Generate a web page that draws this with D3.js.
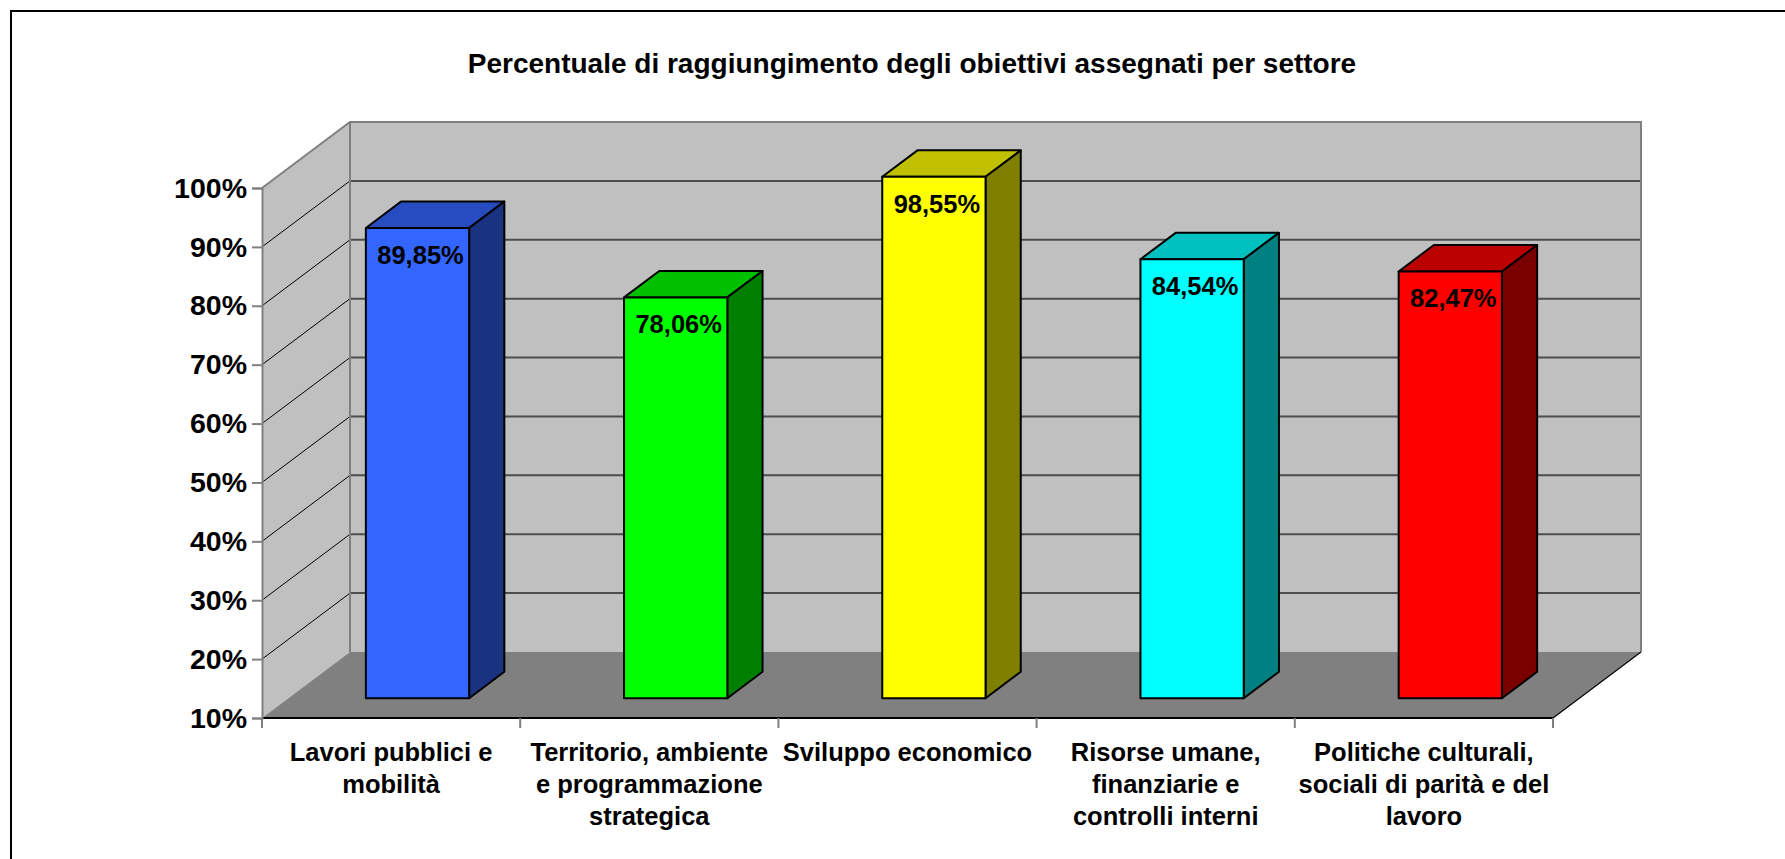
<!DOCTYPE html>
<html>
<head>
<meta charset="utf-8">
<script src="https://cdn.jsdelivr.net/npm/d3@7"></script>
<style>
	body { margin: 0; background: #fff; }
	svg { display: block; font-family: "Liberation Sans", Arial, sans-serif; font-weight: bold; }
</style>
</head>
<body>
<div id="chart"></div>
<script>
var title = 'Percentuale di raggiungimento degli obiettivi assegnati per settore';

var categories = [
	'Lavori pubblici e\nmobilità',
	'Territorio, ambiente\ne programmazione\nstrategica',
	'Sviluppo economico',
	'Risorse umane,\nfinanziarie e\ncontrolli interni',
	'Politiche culturali,\nsociali di parità e del\nlavoro'
];
var values = [89.85, 78.06, 98.55, 84.54, 82.47];
var yTicks = [10, 20, 30, 40, 50, 60, 70, 80, 90, 100];

var frontColors = ['#3366ff', '#00ff00', '#ffff00', '#00ffff', '#ff0000'];
var topColors = ['#264cc0', '#00c000', '#c0c000', '#00c0c0', '#bb0000'];
var sideColors = ['#1a3380', '#008000', '#808000', '#008080', '#7a0000'];

if(typeof(obiettivi) != 'function') {
	obiettivi = function() {
		this.width = 1785;
		this.height = 859;
		// depth of the 3d box
		this.dx = 88;
		this.dy = -66;
		this.x = d3.scaleBand().domain(categories).range([262, 1553]);
		this.y = d3.scaleLinear().domain([10, 100]).range([718, 188]);
	}
}

obiettivi.prototype.walls = function() {
	var self = this, svg = this.svg;
	var x0 = this.x.range()[0], x1 = this.x.range()[1];
	var yb = this.y(10), yt = this.y(100);
	var dx = this.dx, dy = this.dy;

	// back wall
	svg.append('rect')
		.attr('x', x0 + dx).attr('y', yt + dy)
		.attr('width', x1 - x0).attr('height', yb - yt)
		.attr('fill', '#c0c0c0');

	// side wall
	svg.append('path')
		.attr('d', d3.line()([[x0, yt], [x0 + dx, yt + dy], [x0 + dx, yb + dy], [x0, yb]]) + 'Z')
		.attr('fill', '#c0c0c0');

	// floor
	svg.append('path')
		.attr('d', d3.line()([[x0, yb], [x1, yb], [x1 + dx, yb + dy], [x0 + dx, yb + dy]]) + 'Z')
		.attr('fill', '#808080');

	var inner = yTicks.filter(function(t) { return t > 10 && t < 100; });

	// gridlines on the back wall
	svg.selectAll('.grid')
		.data(inner)
		.enter()
			.append('line')
				.attr('class', 'grid')
				.attr('x1', x0 + dx).attr('x2', x1 + dx)
				.attr('y1', function(d) { return self.y(d) + dy; })
				.attr('y2', function(d) { return self.y(d) + dy; })
				.attr('stroke', '#4d4d4d').attr('stroke-width', 2);

	// gridlines on the side wall
	svg.selectAll('.sgrid')
		.data(inner)
		.enter()
			.append('line')
				.attr('class', 'sgrid')
				.attr('x1', x0).attr('x2', x0 + dx)
				.attr('y1', function(d) { return self.y(d); })
				.attr('y2', function(d) { return self.y(d) + dy; })
				.attr('stroke', '#000').attr('stroke-width', 1);

	// wall edges
	svg.append('path')
		.attr('d', d3.line()([[x0, yt], [x0 + dx, yt + dy], [x1 + dx, yt + dy], [x1 + dx, yb + dy]]))
		.attr('fill', 'none').attr('stroke', '#808080').attr('stroke-width', 2);
	svg.append('line')
		.attr('x1', x0 + dx).attr('x2', x0 + dx)
		.attr('y1', yt + dy).attr('y2', yb + dy)
		.attr('stroke', '#808080').attr('stroke-width', 2);

	// floor edges
	svg.append('line')
		.attr('x1', x1).attr('x2', x1 + dx)
		.attr('y1', yb).attr('y2', yb + dy)
		.attr('stroke', '#000').attr('stroke-width', 1.2);
	svg.append('line')
		.attr('x1', x0).attr('x2', x1)
		.attr('y1', yb).attr('y2', yb)
		.attr('stroke', '#000').attr('stroke-width', 2);
}

obiettivi.prototype.axes = function() {
	var self = this, svg = this.svg;
	var x0 = this.x.range()[0];

	var yAxis = d3.axisLeft(this.y)
		.tickValues(yTicks)
		.tickSize(10)
		.tickPadding(5)
		.tickFormat(function(d) { return d + '%'; });

	var gy = svg.append('g')
		.attr('transform', 'translate(' + x0 + ',0)')
		.call(yAxis);
	gy.select('.domain').attr('stroke', '#808080').attr('stroke-width', 2);
	gy.selectAll('.tick line').attr('stroke', '#808080').attr('stroke-width', 2);
	gy.selectAll('.tick text')
		.attr('fill', '#000')
		.style('font-size', '28.5px')
		.style('font-family', '"Liberation Sans", Arial, sans-serif')
		.style('font-weight', 'bold');

	// category ticks sit on band edges
	var edges = categories.map(function(c) { return self.x(c); }).concat([this.x.range()[1]]);
	svg.selectAll('.ctick')
		.data(edges)
		.enter()
			.append('line')
				.attr('class', 'ctick')
				.attr('x1', function(d) { return d; })
				.attr('x2', function(d) { return d; })
				.attr('y1', this.y(10)).attr('y2', this.y(10) + 10)
				.attr('stroke', '#808080').attr('stroke-width', 2);

	var labels = svg.selectAll('.clabel')
		.data(categories)
		.enter()
			.append('text')
				.attr('class', 'clabel')
				.attr('text-anchor', 'middle')
				.style('font-size', '25.5px')
				.attr('x', function(d) { return self.x(d) + self.x.bandwidth() / 2; })
				.attr('y', 761);

	labels.selectAll('tspan')
		.data(function(d) { return d.split('\n'); })
		.enter()
			.append('tspan')
				.attr('x', function() { var p = this.parentNode; return p.getAttribute('x'); })
				.attr('dy', function(d, i) { return i == 0 ? 0 : 32; })
				.text(function(d) { return d; });
}

obiettivi.prototype.bars = function() {
	var self = this, svg = this.svg;
	var bw = this.x.bandwidth();
	var f1 = 0.3, f2 = 0.7;
	var w = bw * 0.4;
	var ddx = (f2 - f1) * this.dx, ddy = (f2 - f1) * this.dy;
	var fmt = d3.format('.2f');

	var bars = categories.map(function(c, i) {
		var left = self.x(c) + bw * 0.3 + f1 * self.dx;
		return {
			i: i,
			v: values[i],
			left: left,
			right: left + w,
			top: self.y(values[i]) + f1 * self.dy,
			bottom: self.y(10) + f1 * self.dy
		};
	});

	var g = svg.selectAll('.bar')
		.data(bars)
		.enter()
			.append('g')
				.attr('class', 'bar');

	g.append('path')
		.attr('d', function(d) {
			return d3.line()([[d.left, d.top], [d.right, d.top], [d.right + ddx, d.top + ddy], [d.left + ddx, d.top + ddy]]) + 'Z';
		})
		.attr('fill', function(d) { return topColors[d.i]; });

	g.append('path')
		.attr('d', function(d) {
			return d3.line()([[d.right, d.top], [d.right + ddx, d.top + ddy], [d.right + ddx, d.bottom + ddy], [d.right, d.bottom]]) + 'Z';
		})
		.attr('fill', function(d) { return sideColors[d.i]; });

	g.append('rect')
		.attr('x', function(d) { return d.left; })
		.attr('y', function(d) { return d.top; })
		.attr('width', w)
		.attr('height', function(d) { return d.bottom - d.top; })
		.attr('fill', function(d) { return frontColors[d.i]; });

	g.selectAll('path, rect')
		.attr('stroke', '#000')
		.attr('stroke-width', 2)
		.attr('stroke-linejoin', 'round');

	g.append('text')
		.attr('text-anchor', 'middle')
		.style('font-size', '25.5px')
		.attr('x', function(d) { return (d.left + d.right) / 2 + 3; })
		.attr('y', function(d) { return d.top + 36; })
		.text(function(d) { return fmt(d.v).replace('.', ',') + '%'; });
}

obiettivi.prototype.create = function(parent) {
	this.svg = d3.select(parent).append('svg')
		.attr('width', this.width)
		.attr('height', this.height);

	// chart border, runs off the right and bottom
	this.svg.append('rect')
		.attr('x', 11).attr('y', 11)
		.attr('width', this.width).attr('height', this.height)
		.attr('fill', '#fff').attr('stroke', '#000').attr('stroke-width', 2);

	this.svg.append('text')
		.attr('x', 912).attr('y', 73)
		.attr('text-anchor', 'middle')
		.style('font-size', '28px')
		.text(title);

	this.walls();
	this.axes();
	this.bars();
}

var chart = new obiettivi();
chart.create('#chart');
</script>
</body>
</html>
